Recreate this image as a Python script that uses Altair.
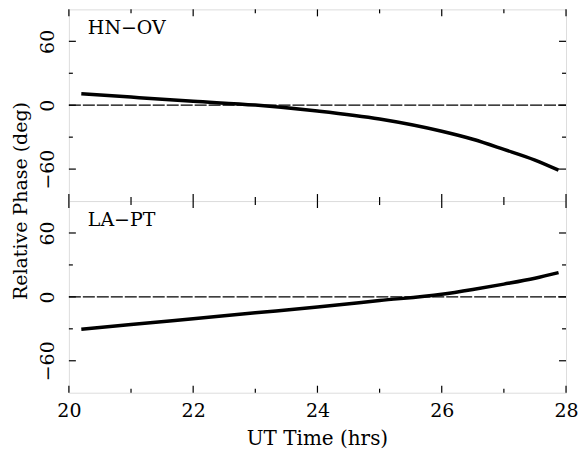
import altair as alt
import pandas as pd

# ---- data ----
hours = [20.2, 21.0, 22.0, 23.0, 24.0, 25.0, 26.0, 26.5, 27.0, 27.5, 27.88]
hn_ov = [10.8, 7.6, 3.7, 0.1, -5.5, -13.0, -24.5, -32.0, -41.5, -51.5, -61.0]
la_pt = [-30.3, -26.0, -20.5, -15.0, -9.5, -3.5, 2.5, 7.0, 12.0, 17.5, 22.8]
panel_names = ["HN\u2212OV", "LA\u2212PT"]
x_major = [20, 22, 24, 26, 28]
x_minor = [21, 23, 25, 27]
y_major = [-60, 0, 60]
y_minor = [-30, 30]
x_title = "UT Time (hrs)"
y_title = "Relative Phase (deg)"

W, H = 498, 192
FONT = "DejaVu Serif"
FS = 19
MAJ, MIN = 7, 4

xs = alt.Scale(domain=[20, 28], nice=False, zero=False)
ys = alt.Scale(domain=[-90, 90], nice=False, zero=False)


def x_axis(show):
    return alt.Axis(values=x_major, labels=show, ticks=False, domain=False, grid=False,
                    title="", labelPadding=9, labelFont=FONT, labelFontSize=FS,
                    labelColor="black", labelFlush=False, labelOverlap=False)


y_ax = alt.Axis(values=y_major, ticks=False, domain=False, grid=False, title="",
                labelAngle=-90, labelAlign="center", labelBaseline="alphabetic",
                labelPadding=15, labelFont=FONT, labelFontSize=FS, labelColor="black",
                labelFlush=False, labelOverlap=False)


def panel(values, label, bottom):
    xa = x_axis(bottom)
    df = pd.DataFrame({"t": hours, "p": values})
    line = alt.Chart(df).mark_line(color="black", strokeWidth=3.5, interpolate="monotone").encode(
        x=alt.X("t:Q", scale=xs, axis=xa),
        y=alt.Y("p:Q", scale=ys, axis=y_ax),
    )
    zero = alt.Chart(pd.DataFrame({"p": [0]})).mark_rule(
        color="black", strokeWidth=1.2, strokeDash=[12, 2]
    ).encode(y=alt.Y("p:Q", scale=ys, axis=y_ax), x=alt.value(0), x2=alt.value(W))

    layers = [zero, line]
    for vals, size in [(x_major, MAJ), (x_minor, MIN)]:
        d = pd.DataFrame({"t": vals})
        layers.append(alt.Chart(d).mark_rule(color="black", strokeWidth=1.2).encode(
            x=alt.X("t:Q", scale=xs, axis=xa), y=alt.value(H), y2=alt.value(H - size)))
        layers.append(alt.Chart(d).mark_rule(color="black", strokeWidth=1.2).encode(
            x=alt.X("t:Q", scale=xs, axis=xa), y=alt.value(0), y2=alt.value(size)))
    for vals, size in [(y_major, MAJ), (y_minor, MIN)]:
        d = pd.DataFrame({"p": vals})
        layers.append(alt.Chart(d).mark_rule(color="black", strokeWidth=1.2).encode(
            y=alt.Y("p:Q", scale=ys, axis=y_ax), x=alt.value(0), x2=alt.value(size)))
        layers.append(alt.Chart(d).mark_rule(color="black", strokeWidth=1.2).encode(
            y=alt.Y("p:Q", scale=ys, axis=y_ax), x=alt.value(W), x2=alt.value(W - size)))

    one = pd.DataFrame({"s": [label]})
    layers.append(alt.Chart(one).mark_text(
        font=FONT, fontSize=FS, align="left", baseline="middle", color="black"
    ).encode(text="s:N", x=alt.value(19), y=alt.value(19)))

    if not bottom:
        yt = pd.DataFrame({"s": [y_title]})
        layers.append(alt.Chart(yt).mark_text(
            font=FONT, fontSize=FS, align="center", baseline="middle", angle=270, color="black"
        ).encode(text="s:N", x=alt.value(-48), y=alt.value(H)))
    else:
        xt = pd.DataFrame({"s": [x_title]})
        layers.append(alt.Chart(xt).mark_text(
            font=FONT, fontSize=20, align="center", baseline="middle", color="black"
        ).encode(text="s:N", x=alt.value(W / 2), y=alt.value(238)))

    return alt.layer(*layers).properties(width=W, height=H)


top = panel(hn_ov, panel_names[0], False)
bot = panel(la_pt, panel_names[1], True)

chart = alt.vconcat(top, bot, spacing=0, bounds="flush").properties(
    padding={"left": 11, "top": 7, "right": 0, "bottom": 0}
).configure_view(stroke="black", strokeWidth=1.5).configure(background="white")

chart.save("out.html", embed_options={"renderer": "svg", "actions": False})
